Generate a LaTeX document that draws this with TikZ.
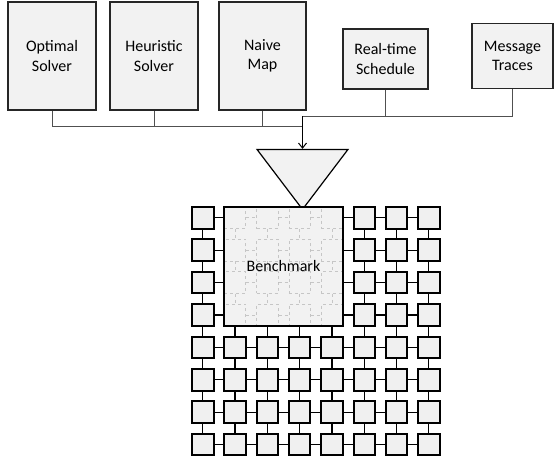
\documentclass[tikz,border=0pt]{standalone}
\usepackage{fontspec}
\setmainfont{Carlito}
\usetikzlibrary{positioning, arrows.meta, shapes.geometric}
\definecolor{boxfill}{RGB}{242, 242, 242}
\definecolor{tilefill}{RGB}{240, 240, 240}
\definecolor{wirecol}{RGB}{80, 80, 80}

\tikzset{
    srcbox/.style={draw=black!85, line width=1.4pt, fill=boxfill, align=center,
                   font=\fontsize{16}{19.5}\selectfont, inner sep=0pt},
    tile/.style={draw=black, line width=2pt, fill=tilefill,
                 minimum size=21.5pt, inner sep=0pt},
    ghost/.style={draw=gray!45, dashed, line width=0.8pt,
                  minimum size=21.5pt, inner sep=0pt},
    link/.style={draw=black, line width=1.2pt},
    ghostlink/.style={draw=gray!45, dashed, line width=0.8pt},
    wire/.style={draw=wirecol, line width=1pt},
}

\begin{document}
\begin{tikzpicture}[x=1pt, y=-1pt]
    \useasboundingbox (0, 0) rectangle (556, 459);

    % inputs
    \node[srcbox, minimum width=88pt, minimum height=108pt] (opt) at (52, 56)
        {Optimal\\Solver};
    \node[srcbox, minimum width=88pt, minimum height=108pt] (heu) at (154, 56)
        {Heuristic\\Solver};
    \node[srcbox, minimum width=87pt, minimum height=108pt] (naive) at (262.5, 56)
        {Naive\\Map};
    \node[srcbox, minimum width=85pt, minimum height=60pt] (rts) at (385.5, 59)
        {Real-time\\Schedule};
    \node[srcbox, minimum width=81pt, minimum height=65pt] (msg) at (512.5, 56)
        {Message\\Traces};

    % funnel
    \node[isosceles triangle, shape border rotate=-90, isosceles triangle stretches,
          minimum width=91pt, minimum height=60pt, inner sep=0pt,
          draw=black, line width=1.2pt, fill=boxfill] (mix) at (302.5, 172) {};

    \coordinate (busL) at (302.5, 126);
    \coordinate (busR) at (302.5, 116);
    \draw[wire] (opt.south) |- (busL);
    \draw[wire] (heu.south) -- (heu.south |- busL);
    \draw[wire] (naive.south) -- (naive.south |- busL);
    \draw[wire] (msg.south) |- (busR);
    \draw[wire] (rts.south) -- (rts.south |- busR);
    \draw[wire, draw=black, -{Straight Barb[length=5pt, width=8pt]}]
        (busR) -- (mix.lower side);

    % benchmark region (fill only, border later)
    \node[fill=boxfill, minimum width=118.4pt, minimum height=118.7pt,
          inner sep=0pt] (bench) at (283.5, 266.35) {};

    % 8x8 mesh
    \foreach \i in {0,...,7} {
        \foreach \j in {0,...,7} {
            \pgfmathtruncatemacro{\inner}{and(and(\i>0, \i<5), \j<4)}
            \ifnum\inner=1
                \node[ghost] (n-\i-\j) at ({202.75+32.3*\i}, {217.75+32.4*\j}) {};
            \else
                \node[tile] (n-\i-\j) at ({202.75+32.3*\i}, {217.75+32.4*\j}) {};
            \fi
        }
    }
    \foreach \i in {0,...,7} {
        \foreach \j in {0,...,6} {
            \pgfmathtruncatemacro{\k}{\j+1}
            \pgfmathtruncatemacro{\both}{and(and(\i>0, \i<5), \k<4)}
            \ifnum\both=1
                \draw[ghostlink] (n-\i-\j.south) -- (n-\i-\k.north);
            \else
                \draw[link] (n-\i-\j.south) -- (n-\i-\k.north);
            \fi
            % horizontal neighbours
            \draw[link] (n-\j-\i.east) -- (n-\k-\i.west);
        }
    }
    % dashed links inside the benchmark
    \foreach \i in {1,...,3} {
        \foreach \j in {0,...,3} {
            \pgfmathtruncatemacro{\k}{\i+1}
            \draw[ghostlink, draw=boxfill, solid, line width=1.4pt] (n-\i-\j.east) -- (n-\k-\j.west);
            \draw[ghostlink] (n-\i-\j.east) -- (n-\k-\j.west);
        }
    }

    \node[draw=black, line width=2pt, minimum width=118.4pt, minimum height=118.7pt,
          inner sep=0pt, font=\fontsize{16}{19}\selectfont] (benchlabel) at (bench)
        {Benchmark};
\end{tikzpicture}
\end{document}
